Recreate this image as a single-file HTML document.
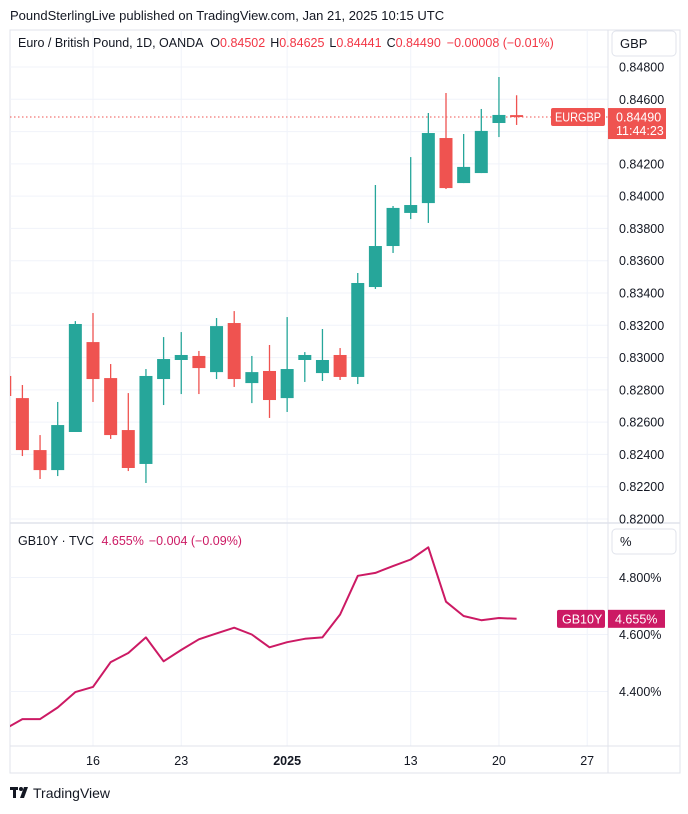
<!DOCTYPE html>
<html><head><meta charset="utf-8">
<style>
html,body{margin:0;padding:0;background:#fff;}
body{width:688px;height:809px;overflow:hidden;font-family:"Liberation Sans",sans-serif;}
svg text{font-family:"Liberation Sans",sans-serif;}
</style></head>
<body>
<svg id="chart" width="688" height="809" viewBox="0 0 688 809" xmlns="http://www.w3.org/2000/svg">
<text x="10" y="20" font-size="13" fill="#131722">PoundSterlingLive published on TradingView.com, Jan 21, 2025 10:15 UTC</text>
<rect x="10" y="30" width="670" height="743" fill="none" stroke="#e0e3eb" stroke-width="1"/>
<g id="grid"></g>
<line x1="10" y1="523" x2="680" y2="523" stroke="#e0e3eb" stroke-width="1.5"/>
<line x1="10" y1="746" x2="680" y2="746" stroke="#e0e3eb"/>
<line x1="608" y1="30" x2="608" y2="773" stroke="#e0e3eb"/>
<g id="candles"></g>
<g id="yieldg"></g>
<g id="axes"></g>
<text x="18" y="47" font-size="12.5" fill="#131722">Euro / British Pound, 1D, OANDA <tspan dx="4">O</tspan><tspan fill="#f23645">0.84502</tspan><tspan dx="5">H</tspan><tspan fill="#f23645">0.84625</tspan><tspan dx="5">L</tspan><tspan fill="#f23645">0.84441</tspan><tspan dx="5">C</tspan><tspan fill="#f23645">0.84490</tspan><tspan dx="6" fill="#f23645">−0.00008 (−0.01%)</tspan></text>
<rect x="612" y="31" width="64" height="25" rx="4" fill="#fff" stroke="#e0e3eb"/>
<text x="620" y="48" font-size="13" fill="#131722">GBP</text>
<text x="18" y="545" font-size="12.5" fill="#131722">GB10Y · TVC <tspan dx="4" fill="#cc1a64">4.655%</tspan><tspan dx="5" fill="#cc1a64">−0.004 (−0.09%)</tspan></text>
<rect x="612" y="529" width="64" height="25" rx="4" fill="#fff" stroke="#e0e3eb"/>
<text x="620" y="546" font-size="13" fill="#131722">%</text>
<g>
<rect x="10" y="787" width="8" height="3" fill="#131722"/>
<rect x="13" y="787" width="3" height="11" fill="#131722"/>
<circle cx="21" cy="789" r="2" fill="#131722"/>
<polygon points="24,787 28,787 24,798 20,798" fill="#131722"/>
<text x="33" y="798" font-size="14" fill="#131722">TradingView</text>
</g>
</svg>
<script>
const dayIdx=[-5,-4,-3,-2,-1,0,1,2,3,4,5,6,7,8,9,10,11,12,13,14,15,16,17,18,19,20,21,22,23,24];
const opens=[.82886,.82749,.82427,.82303,.82539,.83096,.82873,.82551,.82341,.82867,.82985,.8301,.8291,.83214,.82842,.82917,.82749,.82985,.82904,.83016,.8288,.83437,.83691,.83896,.83957,.8436,.84081,.84143,.84453,.84502];
const highs=[.8290,.8283,.8252,.82725,.83226,.83276,.8296,.8278,.82929,.83127,.83158,.83041,.83245,.83288,.8301,.83078,.83251,.83034,.83177,.83059,.83524,.84069,.83939,.84242,.84515,.84639,.84385,.8454,.84738,.84625];
const lows=[.8275,.8239,.82248,.82266,.82539,.82725,.82496,.82297,.82223,.82706,.82774,.82774,.82867,.82818,.82718,.82626,.82663,.82849,.82855,.82861,.82836,.83425,.83648,.83858,.83834,.84044,.84081,.84143,.84366,.84441];
const closes=[.82762,.82427,.82303,.82582,.83208,.82867,.8252,.82316,.82886,.82991,.83016,.82935,.83195,.82867,.8291,.82737,.82929,.83016,.82985,.8288,.83462,.83691,.83927,.83945,.84391,.8405,.84181,.84404,.84503,.8449];
const yields=[4.268,4.303,4.303,4.344,4.398,4.416,4.503,4.535,4.590,4.506,4.546,4.583,4.604,4.624,4.600,4.555,4.573,4.585,4.590,4.670,4.806,4.816,4.840,4.863,4.906,4.715,4.665,4.650,4.658,4.655];
const priceTicks=[0.848,0.846,0.844,0.842,0.840,0.838,0.836,0.834,0.832,0.830,0.828,0.826,0.824,0.822,0.820];
const yieldTicks=[4.8,4.6,4.4];
const timeTickIdx=[0,5,11,18,23,28];
const timeTickLabels=["16","23","2025","13","20","27"];
const lastPrice=0.8449, lastYield=4.655;

const NS="http://www.w3.org/2000/svg";
const X=i=>93+i*17.65;
const Y=p=>67+(0.848-p)*16143;
const YY=v=>577.5+(4.8-v)*285;
function mk(tag,attrs,parent){const e=document.createElementNS(NS,tag);for(const k in attrs)e.setAttribute(k,attrs[k]);parent.appendChild(e);return e;}
const grid=document.getElementById('grid'),axes=document.getElementById('axes');
const cg=document.getElementById('candles'),yg=document.getElementById('yieldg');
const defs=mk('defs',{},document.getElementById('chart'));
const cp=mk('clipPath',{id:'mainclip'},defs);mk('rect',{x:10,y:30,width:598,height:493},cp);
const cp2=mk('clipPath',{id:'lowclip'},defs);mk('rect',{x:10,y:524,width:598,height:222},cp2);
cg.setAttribute('clip-path','url(#mainclip)');yg.setAttribute('clip-path','url(#lowclip)');

priceTicks.forEach(p=>{
  const l=mk('line',{x1:10,x2:608,y1:Y(p),y2:Y(p),stroke:'#f0f3fa'},grid);
  
  
  const t=mk('text',{x:619,y:Y(p)+4.5,'font-size':12.5,fill:'#131722'},axes);
  
  
  t.textContent=p.toFixed(5);
});
yieldTicks.forEach(v=>{
  const l=mk('line',{x1:10,x2:608,y1:YY(v),y2:YY(v),stroke:'#f0f3fa'},grid);
  
  
  const t=mk('text',{x:619,y:YY(v)+4.5,'font-size':12.5,fill:'#131722'},axes);
  
  
  t.textContent=v.toFixed(3)+'%';
});
timeTickIdx.forEach((d,k)=>{
  const x=X(d);
  const l=mk('line',{x1:x,x2:x,y1:30,y2:746,stroke:'#f0f3fa'},grid);
  
  
  const t=mk('text',{x:x,y:765,'font-size':12.5,fill:'#131722','text-anchor':'middle','font-weight':timeTickLabels[k]==='2025'?'bold':'normal'},axes);
  
  
  t.textContent=timeTickLabels[k];
});
dayIdx.forEach((d,i)=>{
  const up=closes[i]>=opens[i], col=up?'#26a69a':'#ef5350', x=X(d);
  const g=mk('g',{},cg);
  
  
  mk('line',{x1:x,x2:x,y1:Y(highs[i]),y2:Y(lows[i]),stroke:col,'stroke-width':1.3},g);
  const top=Y(Math.max(opens[i],closes[i])),bot=Y(Math.min(opens[i],closes[i]));
  mk('rect',{x:x-6.5,y:top,width:13,height:Math.max(1.5,bot-top),fill:col},g);
});
const lpY=Y(lastPrice);
const lp=mk('line',{x1:10,x2:608,y1:lpY,y2:lpY,stroke:'#ef5350','stroke-dasharray':'1.5,2.5'},grid);


const lb=mk('g',{},axes);


mk('rect',{x:551,y:lpY-9,width:54,height:18,rx:2,fill:'#ef5350'},lb);
mk('text',{x:555,y:lpY+4.5,'font-size':12.5,fill:'#fff',textLength:46,lengthAdjust:'spacingAndGlyphs'},lb).textContent='EURGBP';
mk('rect',{x:608,y:lpY-9,width:58,height:31,fill:'#ef5350'},lb);
mk('text',{x:616,y:lpY+4.5,'font-size':12.5,fill:'#fff'},lb).textContent=lastPrice.toFixed(5);
mk('text',{x:616,y:lpY+18,'font-size':12.5,fill:'#fff'},lb).textContent='11:44:23';
const pts=dayIdx.map((d,i)=>X(d).toFixed(1)+','+YY(yields[i]).toFixed(1)).join(' ');
const pl=mk('polyline',{points:pts,fill:'none',stroke:'#cc1a64','stroke-width':2,'stroke-linejoin':'round'},yg);


const ly=YY(lastYield);
const yl=mk('g',{},axes);


mk('rect',{x:557,y:ly-9,width:48,height:18,rx:2,fill:'#cc1a64'},yl);
mk('text',{x:562,y:ly+4.5,'font-size':12.5,fill:'#fff'},yl).textContent='GB10Y';
mk('rect',{x:608,y:ly-9,width:57,height:18,fill:'#cc1a64'},yl);
mk('text',{x:615,y:ly+4.5,'font-size':12.5,fill:'#fff'},yl).textContent=lastYield.toFixed(3)+'%';
</script>
</body></html>
